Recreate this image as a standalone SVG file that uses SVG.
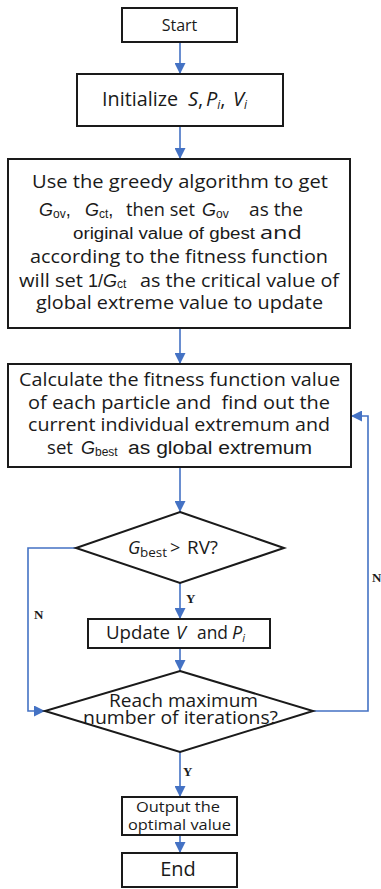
<svg xmlns="http://www.w3.org/2000/svg" width="381" height="889" viewBox="0 0 381 889">
<defs>
<marker id="ah" markerUnits="userSpaceOnUse" markerWidth="11" markerHeight="11" refX="11" refY="5.5" orient="auto">
<path d="M0,0 L11,5.5 L0,11 z" fill="#4472C4"/>
</marker>
<style>
.box{fill:#fff;stroke:#1a1a1a;stroke-width:2}
.con{fill:none;stroke:#4472C4;stroke-width:1.6}
.t{font-family:"Open Sans","Noto Sans",sans-serif;fill:#1a1a1a}
.a{font-family:"Liberation Sans",Arial,sans-serif;fill:#1a1a1a}
.lbl{font-family:"Liberation Serif","Times New Roman",serif;font-weight:bold;font-size:13px;fill:#1a1a1a}
.i{font-style:italic}
</style>
</defs>
<rect width="381" height="889" fill="#fff"/>
<g id="connectors">
<line class="con" x1="180" y1="42" x2="180" y2="74" marker-end="url(#ah)"/>
<line class="con" x1="180" y1="126" x2="180" y2="159" marker-end="url(#ah)"/>
<line class="con" x1="180" y1="328" x2="180" y2="364" marker-end="url(#ah)"/>
<line class="con" x1="180" y1="467" x2="180" y2="512" marker-end="url(#ah)"/>
<line class="con" x1="180" y1="583" x2="180" y2="619" marker-end="url(#ah)"/>
<line class="con" x1="180" y1="648" x2="180" y2="671" marker-end="url(#ah)"/>
<line class="con" x1="180" y1="752" x2="180" y2="797" marker-end="url(#ah)"/>
<line class="con" x1="180" y1="835" x2="180" y2="853" marker-end="url(#ah)"/>
<polyline class="con" points="76,548 28,548 28,711 45,711" marker-end="url(#ah)"/>
<polyline class="con" points="313,711 368,711 368,416 351,416" marker-end="url(#ah)"/>
<text class="lbl" x="186" y="603">Y</text>
<text class="lbl" x="34" y="619">N</text>
<text class="lbl" x="372" y="582">N</text>
<text class="lbl" x="183" y="776">Y</text>
</g>
<g id="start">
<rect class="box" x="122" y="8" width="115" height="34"/>
<text class="t" x="179.5" y="31" font-size="16" text-anchor="middle">Start</text>
</g>
<g id="init">
<rect class="box" x="77" y="74" width="206" height="52"/>
<text class="t" x="102" y="106" font-size="20" textLength="76" lengthAdjust="spacingAndGlyphs">Initialize</text>
<text class="t i" x="188" y="106" font-size="20">S<tspan font-style="normal">,</tspan></text>
<text class="t i" x="206" y="106" font-size="20">P<tspan font-size="12" dy="3">i</tspan><tspan font-style="normal" dy="-3">,</tspan></text>
<text class="t i" x="233" y="106" font-size="20">V<tspan font-size="12" dy="3">i</tspan></text>
</g>
<g id="greedy">
<rect class="box" x="8" y="159" width="342" height="169"/>
<text class="t" x="32" y="188" font-size="18" textLength="296" lengthAdjust="spacingAndGlyphs">Use the greedy algorithm to get</text>
<text class="a" x="39" y="216" font-size="18"><tspan font-style="italic">G</tspan><tspan font-size="12" dy="2">ov</tspan><tspan dy="-2">,</tspan></text>
<text class="a" x="85" y="216" font-size="18"><tspan font-style="italic">G</tspan><tspan font-size="12" dy="2">ct</tspan><tspan dy="-2">,</tspan></text>
<text class="t" x="126" y="216" font-size="18" textLength="69" lengthAdjust="spacingAndGlyphs">then set</text>
<text class="a" x="202" y="216" font-size="18"><tspan font-style="italic">G</tspan><tspan font-size="12" dy="2">ov</tspan></text>
<text class="t" x="249" y="216" font-size="18" textLength="54" lengthAdjust="spacingAndGlyphs">as the</text>
<text class="a" x="73" y="239" font-size="16" textLength="182" lengthAdjust="spacingAndGlyphs">original value of gbest</text>
<text class="t" x="260" y="239" font-size="18" textLength="42" lengthAdjust="spacingAndGlyphs">and</text>
<text class="t" x="30" y="263" font-size="18" textLength="298" lengthAdjust="spacingAndGlyphs">according to the fitness function</text>
<text class="t" x="19" y="287" font-size="18" textLength="64" lengthAdjust="spacingAndGlyphs">will set</text>
<text class="a" x="88" y="287" font-size="18">1/<tspan font-style="italic">G</tspan><tspan font-size="12" dy="1">ct</tspan></text>
<text class="t" x="140" y="287" font-size="18" textLength="199" lengthAdjust="spacingAndGlyphs">as the critical value of</text>
<text class="t" x="36" y="309" font-size="18" textLength="287" lengthAdjust="spacingAndGlyphs">global extreme value to update</text>
</g>
<g id="calc">
<rect class="box" x="8" y="364" width="343" height="103"/>
<text class="t" x="19" y="386" font-size="18" textLength="321" lengthAdjust="spacingAndGlyphs">Calculate the fitness function value</text>
<text class="t" x="28" y="409" font-size="18" textLength="302" lengthAdjust="spacingAndGlyphs" xml:space="preserve">of each particle and  find out the</text>
<text class="t" x="28" y="431" font-size="18" textLength="302" lengthAdjust="spacingAndGlyphs">current individual extremum and</text>
<text class="t" x="47" y="454" font-size="18" textLength="26" lengthAdjust="spacingAndGlyphs">set</text>
<text class="a" x="81" y="454" font-size="18"><tspan font-style="italic">G</tspan><tspan font-size="12" dy="2">best</tspan></text>
<text class="a" x="128" y="454" font-size="18" textLength="184" lengthAdjust="spacingAndGlyphs">as global extremum</text>
</g>
<g id="check">
<polygon class="box" points="180,512 284,548 180,583 76,548"/>
<text class="t i" x="128" y="554" font-size="18">G</text>
<text class="t" x="140" y="557" font-size="13" textLength="27" lengthAdjust="spacingAndGlyphs">best</text>
<text class="t" x="170" y="554" font-size="18">&gt;</text>
<text class="t" x="187" y="554" font-size="18" textLength="31" lengthAdjust="spacingAndGlyphs">RV?</text>
</g>
<g id="update">
<rect class="box" x="88" y="619" width="182" height="29"/>
<text class="t" x="106" y="639" font-size="18" textLength="64" lengthAdjust="spacingAndGlyphs">Update</text>
<text class="t i" x="176" y="639" font-size="18">V</text>
<text class="t" x="197" y="639" font-size="18" textLength="31" lengthAdjust="spacingAndGlyphs">and</text>
<text class="t i" x="232" y="639" font-size="18">P<tspan font-size="11" dy="3">i</tspan></text>
</g>
<g id="reach">
<polygon class="box" points="180,671 313,711 180,752 45,711"/>
<text class="t" x="183.5" y="707" font-size="18" text-anchor="middle" textLength="149" lengthAdjust="spacingAndGlyphs">Reach maximum</text>
<text class="t" x="180.5" y="724" font-size="18" text-anchor="middle" textLength="195" lengthAdjust="spacingAndGlyphs">number of iterations?</text>
</g>
<g id="output">
<rect class="box" x="122" y="797" width="115" height="38"/>
<text class="t" x="178" y="812" font-size="15" text-anchor="middle" textLength="84" lengthAdjust="spacingAndGlyphs">Output the</text>
<text class="t" x="179.5" y="830" font-size="15" text-anchor="middle" textLength="103" lengthAdjust="spacingAndGlyphs">optimal value</text>
</g>
<g id="end">
<rect class="box" x="122" y="853" width="115" height="34"/>
<text class="t" x="178" y="876" font-size="20" text-anchor="middle">End</text>
</g>
</svg>
